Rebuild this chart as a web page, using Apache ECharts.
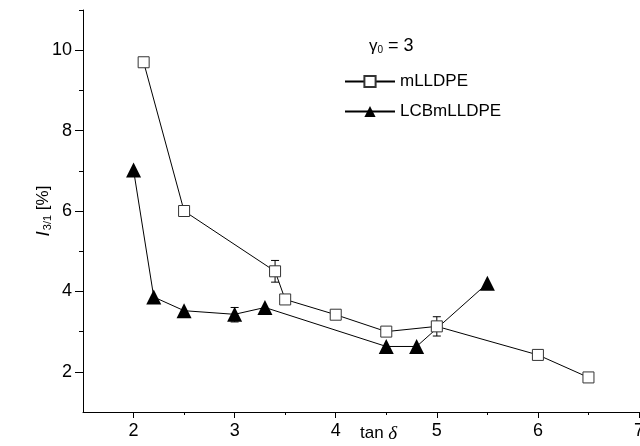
<!DOCTYPE html>
<html><head><meta charset="utf-8">
<script src="https://cdn.jsdelivr.net/npm/echarts@6/dist/echarts.min.js"></script>
<style>html,body{margin:0;padding:0;background:#fff}#c{width:640px;height:446px}</style>
</head><body><div id="c"></div>
<script>
var mX = [2.1, 2.5, 3.4, 3.5, 4.0, 4.5, 5.0, 6.0, 6.5];
var mY = [9.7, 6.0, 4.5, 3.8, 3.42, 3.0, 3.13, 2.42, 1.86];
var lX = [2.0, 2.2, 2.5, 3.0, 3.3, 4.5, 4.8, 5.5];
var lY = [7.02, 3.86, 3.52, 3.43, 3.6, 2.63, 2.63, 4.2];
var mErrX = [3.4, 4.0, 5.0];
var mErrLo = [4.23, 3.32, 2.89];
var mErrHi = [4.77, 3.52, 3.37];
var lErrX = [3.0];
var lErrLo = [3.24];
var lErrHi = [3.6];
var xMajor = [2, 3, 4, 5, 6, 7];
var xMinor = [2.5, 3.5, 4.5, 5.5, 6.5];
var yMajor = [2, 4, 6, 8, 10];
var yMinor = [3, 5, 7, 9, 11];

function zip(a, b) { return a.map(function (v, i) { return [v, b[i]]; }); }
function zip3(a, b, c) { return a.map(function (v, i) { return [v, b[i], c[i]]; }); }

function errRender(params, api) {
  var x = api.value(0), lo = api.value(1), hi = api.value(2);
  var p1 = api.coord([x, hi]), p2 = api.coord([x, lo]);
  var w = 4;
  var st = { stroke: '#000', lineWidth: 1 };
  return { type: 'group', children: [
    { type: 'line', shape: { x1: p1[0], y1: p1[1], x2: p2[0], y2: p2[1] }, style: st },
    { type: 'line', shape: { x1: p1[0] - w, y1: p1[1], x2: p1[0] + w, y2: p1[1] }, style: st },
    { type: 'line', shape: { x1: p2[0] - w, y1: p2[1], x2: p2[0] + w, y2: p2[1] }, style: st }
  ]};
}

var font = 'Liberation Sans, Arial, sans-serif';
var chart = echarts.init(document.getElementById('c'));
chart.setOption({
  animation: false,
  backgroundColor: '#fff',
  grid: { left: 83, right: 1, top: 10, bottom: 34, containLabel: false, outerBoundsMode: 'none' },
  xAxis: [{
    type: 'value', min: 1.5, max: 7, position: 'bottom',
    axisLine: { show: true, onZero: false, lineStyle: { color: '#000', width: 1 } },
    axisTick: { show: true, length: 6, customValues: xMajor, lineStyle: { color: '#000' } },
    axisLabel: { show: true, customValues: xMajor, color: '#000', fontSize: 18, fontFamily: font, margin: 10 },
    splitLine: { show: false }
  }, {
    type: 'value', min: 1.5, max: 7, position: 'bottom',
    axisLine: { show: false },
    axisTick: { show: true, length: 3, customValues: xMinor, lineStyle: { color: '#000' } },
    axisLabel: { show: false },
    splitLine: { show: false }
  }],
  yAxis: [{
    type: 'value', min: 1, max: 11, position: 'left',
    axisLine: { show: true, onZero: false, lineStyle: { color: '#000', width: 1 } },
    axisTick: { show: true, length: 8, customValues: yMajor, lineStyle: { color: '#000' } },
    axisLabel: { show: true, customValues: yMajor, color: '#000', fontSize: 18, fontFamily: font, margin: 11 },
    splitLine: { show: false },
    name: '{i|I}{s|3/1}{n| [%]}', nameLocation: 'middle', nameGap: 30, nameRotate: 90,
    nameMoveOverlap: false,
    nameTextStyle: {
      rich: {
        i: { fontSize: 19, fontFamily: font, fontStyle: 'italic', color: '#000' },
        s: { fontSize: 11, fontFamily: font, color: '#000', padding: [8, 0, 0, 1] },
        n: { fontSize: 17, fontFamily: font, color: '#000' }
      }
    }
  }, {
    type: 'value', min: 1, max: 11, position: 'left',
    axisLine: { show: false },
    axisTick: { show: true, length: 4, customValues: yMinor, lineStyle: { color: '#000' } },
    axisLabel: { show: false },
    splitLine: { show: false }
  }],
  legend: {
    orient: 'vertical', left: 339, top: 68, itemWidth: 50, itemHeight: 14, itemGap: 13,
    textStyle: { fontSize: 17, fontFamily: font, color: '#000', padding: [0, 0, 0, 0] },
    data: ['mLLDPE', 'LCBmLLDPE']
  },
  graphic: [{
    type: 'text', left: 369, top: 37,
    style: {
      text: '{g|γ}{z|0}{e| = 3}',
      rich: {
        g: { fontSize: 17, fontFamily: font, fill: '#000' },
        z: { fontSize: 10, fontFamily: font, fill: '#000', padding: [8, 0, 0, 0] },
        e: { fontSize: 18, fontFamily: font, fill: '#000' }
      }
    }
  }, {
    type: 'text', left: 360, top: 424,
    style: {
      text: '{t|tan }{d|δ}',
      rich: {
        t: { fontSize: 17, fontFamily: font, fill: '#000' },
        d: { fontSize: 19, fontFamily: 'Liberation Serif, Times New Roman, serif', fontStyle: 'italic', fill: '#000' }
      }
    }
  }],
  series: [{
    type: 'custom', name: 'errM', xAxisIndex: 0, yAxisIndex: 0, renderItem: errRender,
    data: zip3(mErrX, mErrLo, mErrHi), z: 1, silent: true
  }, {
    type: 'custom', name: 'errL', xAxisIndex: 0, yAxisIndex: 0, renderItem: errRender,
    data: zip3(lErrX, lErrLo, lErrHi), z: 1, silent: true
  }, {
    type: 'line', name: 'mLLDPE', xAxisIndex: 0, yAxisIndex: 0,
    data: zip(mX, mY), symbol: 'rect', symbolSize: 11, showAllSymbol: true,
    lineStyle: { color: '#000', width: 1 },
    itemStyle: { color: '#fff', borderColor: '#333', borderWidth: 1 },
    z: 3
  }, {
    type: 'line', name: 'LCBmLLDPE', xAxisIndex: 0, yAxisIndex: 0,
    data: zip(lX, lY), symbol: 'triangle', symbolSize: 15, showAllSymbol: true,
    lineStyle: { color: '#000', width: 1 },
    itemStyle: { color: '#000', borderColor: '#000', borderWidth: 0 },
    z: 2
  }]
});
</script></body></html>
